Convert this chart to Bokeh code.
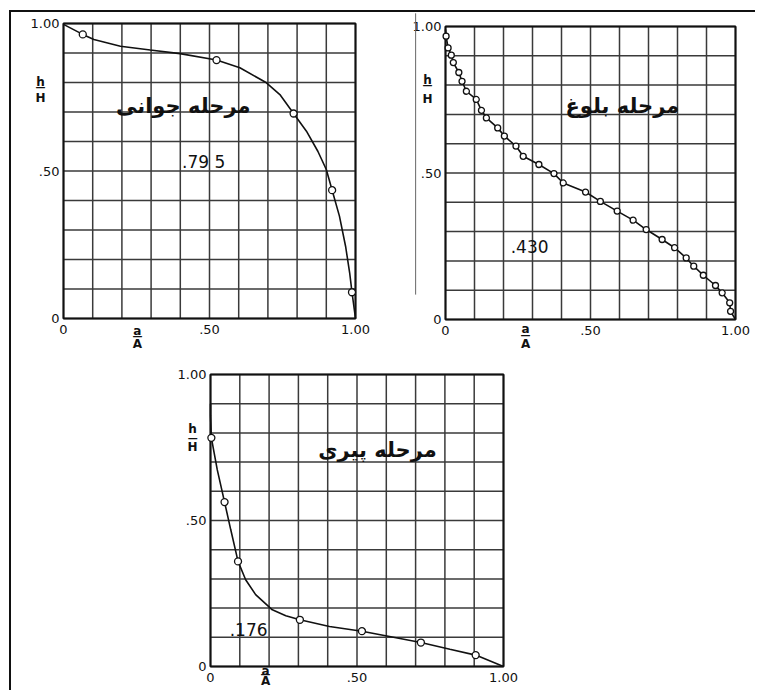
from bokeh.plotting import figure
from bokeh.layouts import column, row
from bokeh.models import Spacer, Range1d
from bokeh.core.properties import value
from bokeh.embed import file_html
from bokeh.resources import INLINE

# ---------------- data ----------------
tick_values = [0.0, 0.5, 1.0]
tick_labels = ["0", ".50", "1.00"]
grid_ticks = [0.0, 0.1, 0.2, 0.3, 0.4, 0.5, 0.6, 0.7, 0.8, 0.9, 1.0]

# youth stage (مرحله جوانی), integral .795
youth_curve_x = [0.0, 0.066, 0.104, 0.195, 0.297, 0.399, 0.524, 0.604, 0.695, 0.741, 0.788,
                 0.832, 0.871, 0.900, 0.920, 0.945, 0.966, 0.980, 0.988, 1.0]
youth_curve_y = [0.997, 0.963, 0.946, 0.923, 0.910, 0.898, 0.876, 0.850, 0.799, 0.759, 0.695,
                 0.635, 0.567, 0.505, 0.435, 0.347, 0.245, 0.155, 0.089, 0.0]
youth_pts_x = [0.066, 0.524, 0.788, 0.920, 0.988]
youth_pts_y = [0.963, 0.876, 0.695, 0.435, 0.089]

# maturity stage (مرحله بلوغ), integral .430
mature_curve_x = [0.0, 0.002, 0.009, 0.020, 0.027, 0.046, 0.057, 0.072, 0.106, 0.124, 0.141, 0.180, 0.203,
                  0.243, 0.268, 0.322, 0.374, 0.406, 0.483, 0.534, 0.592, 0.647, 0.692, 0.747, 0.790,
                  0.830, 0.856, 0.889, 0.931, 0.954, 0.980, 0.983, 1.0]
mature_curve_y = [0.99, 0.967, 0.927, 0.902, 0.877, 0.843, 0.813, 0.779, 0.751, 0.714, 0.688, 0.654, 0.626,
                  0.592, 0.557, 0.529, 0.498, 0.466, 0.435, 0.403, 0.370, 0.339, 0.307, 0.273, 0.245,
                  0.210, 0.182, 0.151, 0.116, 0.091, 0.057, 0.028, 0.0]
mature_pts_x = mature_curve_x[1:-1]
mature_pts_y = mature_curve_y[1:-1]

# old age stage (مرحله پیری), integral .176
old_curve_x = [0.0, 0.0, 0.003, 0.023, 0.048, 0.069, 0.094, 0.12, 0.154, 0.211, 0.257, 0.305,
               0.406, 0.517, 0.611, 0.718, 0.817, 0.905, 1.0]
old_curve_y = [0.90, 0.86, 0.783, 0.674, 0.563, 0.469, 0.36, 0.297, 0.246, 0.194, 0.174, 0.16,
               0.137, 0.121, 0.103, 0.082, 0.059, 0.039, 0.0]
old_pts_x = [0.003, 0.048, 0.094, 0.305, 0.517, 0.718, 0.905]
old_pts_y = [0.783, 0.563, 0.36, 0.16, 0.121, 0.082, 0.039]

titles = ["مرحله جوانی", "مرحله بلوغ", "مرحله پیری"]
integrals = [".79 5", ".430", ".176"]
y_frac = ("h", "H")
x_frac = ("a", "A")

NUM_FONT = "DejaVu Sans"
INK = "#111111"


def make_panel(cx, cy, px, py, title, title_pos, integ, integ_pos, h_pos, a_pos,
               width, height, left, top, fw, fh, msize):
    # the drawing box (data 0..1) sits at pixel offsets (left, top) with size fw x fh
    xr = Range1d(-left / fw, (width - left) / fw)
    yr = Range1d(-(height - top - fh) / fh, 1 + top / fh)
    p = figure(frame_width=width, frame_height=height, x_range=xr, y_range=yr,
               output_backend="svg", toolbar_location=None,
               x_axis_location=None, y_axis_location=None,
               min_border=0)
    p.xgrid.visible = False
    p.ygrid.visible = False
    p.outline_line_color = None
    p.background_fill_color = "white"
    p.border_fill_color = "white"

    n = len(grid_ticks)
    # grid
    p.segment(x0=grid_ticks, y0=[0.0] * n, x1=grid_ticks, y1=[1.0] * n,
              line_color="#3a3a3a", line_width=1.5)
    p.segment(x0=[0.0] * n, y0=grid_ticks, x1=[1.0] * n, y1=grid_ticks,
              line_color="#3a3a3a", line_width=1.5)
    # frame
    p.quad(left=[0.0], right=[1.0], bottom=[0.0], top=[1.0], fill_color=None,
           line_color=INK, line_width=2)

    # tick labels
    k = len(tick_values)
    p.text(x=[-4 / fw] * k, y=tick_values, text=tick_labels, text_font=value(NUM_FONT),
           text_font_size="13px", text_align="right", text_baseline="middle", text_color=INK)
    p.text(x=tick_values, y=[-6 / fh] * k, text=tick_labels, text_font=value(NUM_FONT),
           text_font_size="13px", text_align="center", text_baseline="top", text_color=INK)

    # curve and points
    p.line(cx, cy, line_color=INK, line_width=1.6)
    p.scatter(px, py, marker="circle", size=msize, fill_color="white",
              line_color=INK, line_width=1.3)

    p.text(x=[title_pos[0]], y=[title_pos[1]], text=[title], text_font=value("DejaVu Sans"),
           text_font_style="bold", text_font_size="21px", text_align="center",
           text_baseline="middle", text_color=INK)
    p.text(x=[integ_pos[0]], y=[integ_pos[1]], text=[integ], text_font=value(NUM_FONT),
           text_font_size="17px", text_align="center", text_baseline="middle",
           text_color=INK)

    # h/H and a/A fractions
    for frac, pos in ((y_frac, h_pos), (x_frac, a_pos)):
        fx, fy_top, fy_bar, fy_bot = pos
        p.text(x=[fx, fx], y=[fy_top, fy_bot], text=list(frac), text_font=value(NUM_FONT),
               text_font_size="12px", text_font_style="bold", text_align="center",
               text_baseline="middle", text_color=INK)
        p.text(x=[fx], y=[fy_bar], text=["\u2014"], text_font=value(NUM_FONT),
               text_font_size="10px", text_font_style="bold", text_align="center",
               text_baseline="middle", text_color=INK)
    return p


p1 = make_panel(youth_curve_x, youth_curve_y, youth_pts_x, youth_pts_y,
                titles[0], (0.41, 0.72), integrals[0], (0.48, 0.53),
                (-0.079, 0.803, 0.783, 0.749), (0.253, -0.044, -0.061, -0.088),
                374, 345, 52, 11, 292, 295, 7)

p2 = make_panel(mature_curve_x, mature_curve_y, mature_pts_x, mature_pts_y,
                titles[1], (0.61, 0.73), integrals[1], (0.29, 0.25),
                (-0.062, 0.819, 0.799, 0.751), (0.276, -0.034, -0.055, -0.085),
                370, 345, 60, 14, 290, 293, 6)
# faint scanned rule left of the second chart
p2.line(x=[-0.103, -0.103], y=[1.045, 0.085], line_color="#666666", line_width=1)

p3 = make_panel(old_curve_x, old_curve_y, old_pts_x, old_pts_y,
                titles[2], (0.57, 0.74), integrals[2], (0.13, 0.127),
                (-0.061, 0.812, 0.781, 0.753), (0.188, -0.014, -0.029, -0.049),
                372, 333, 59, 17, 293, 292, 7)

layout = column(row(p1, p2), row(Spacer(width=140, height=10), p3),
                margin=(10, 0, 0, 9),
                styles={"border-top": "2px solid #111111", "border-left": "2px solid #111111"})

open("out.html", "w").write(file_html(layout, INLINE))
